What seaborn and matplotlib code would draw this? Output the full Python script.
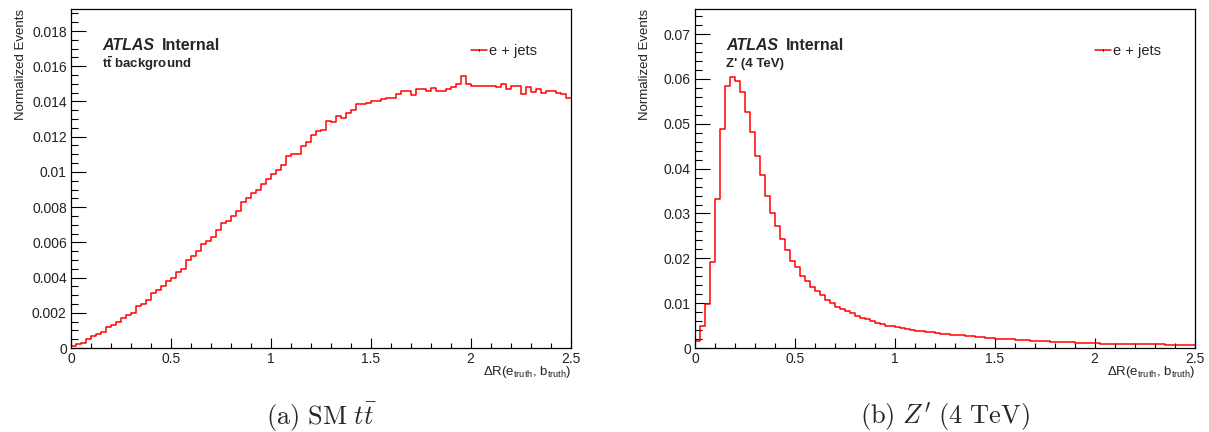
import numpy as np
import pandas as pd
import seaborn as sns
import matplotlib
matplotlib.use("Agg")
import matplotlib.pyplot as plt
from matplotlib.ticker import MultipleLocator, FuncFormatter
from matplotlib.lines import Line2D

# ---------------- data ----------------
x_low, x_high, n_bins = 0.0, 2.5, 100

ttbar_vals = [
    0.0001, 0.0002, 0.0003, 0.0005, 0.0007, 0.0008, 0.0009, 0.0012, 0.0013, 0.0015,
    0.0017, 0.0019, 0.0020, 0.0024, 0.0025, 0.0027, 0.0031, 0.0033, 0.0035, 0.0038,
    0.0040, 0.0043, 0.0045, 0.0050, 0.0052, 0.0055, 0.0059, 0.0061, 0.0063, 0.0067,
    0.0071, 0.0072, 0.0075, 0.0078, 0.0083, 0.0085, 0.0088, 0.0090, 0.0093, 0.0096,
    0.0099, 0.0101, 0.0104, 0.0109, 0.0110, 0.0110, 0.01148, 0.01169, 0.01210, 0.01233,
    0.01237, 0.01288, 0.01284, 0.01318, 0.01305, 0.01337, 0.01349, 0.01386, 0.01386, 0.01390,
    0.01405, 0.01403, 0.01413, 0.01422, 0.01420, 0.01443, 0.01460, 0.01460, 0.01438, 0.01468,
    0.01470, 0.01460, 0.01479, 0.01460, 0.01460, 0.01470, 0.01480, 0.01500, 0.01542, 0.01500,
    0.01490, 0.01490, 0.01490, 0.01490, 0.01490, 0.01480, 0.01500, 0.01470, 0.01490, 0.01490,
    0.01441, 0.01480, 0.01454, 0.01470, 0.01450, 0.01460, 0.01460, 0.01450, 0.01440, 0.01420,
]

zprime_vals = [
    0.0015, 0.0048, 0.0099, 0.0191, 0.0332, 0.0488, 0.0584, 0.0605, 0.0595, 0.0570,
    0.0527, 0.0482, 0.0429, 0.0385, 0.0338, 0.0302, 0.0271, 0.0244, 0.0218, 0.0195,
    0.0181, 0.0161, 0.0150, 0.0135, 0.0127, 0.0119, 0.0108, 0.0101, 0.0092, 0.0086,
    0.0082, 0.0078, 0.0071, 0.0067, 0.0064, 0.0060, 0.0056, 0.0053, 0.0050, 0.0048,
    0.0046, 0.0044, 0.0043, 0.0041, 0.0039, 0.0038, 0.0036, 0.0035, 0.0033, 0.0032,
    0.0031, 0.0030, 0.0029, 0.0028, 0.0027, 0.0026, 0.0025, 0.0024, 0.0023, 0.0022,
    0.0021, 0.0020, 0.0020, 0.0019, 0.0018, 0.0018, 0.0017, 0.0016, 0.0016, 0.0015,
    0.0015, 0.0014, 0.0014, 0.0013, 0.0013, 0.0013, 0.0012, 0.0012, 0.0011, 0.0011,
    0.0011, 0.0010, 0.0010, 0.0010, 0.0010, 0.0009, 0.0009, 0.0009, 0.0009, 0.0008,
    0.0008, 0.0008, 0.0008, 0.0008, 0.0007, 0.0007, 0.0007, 0.0007, 0.0007, 0.0007,
]

series_label = "e + jets"
y_label = "Normalized Events"
x_label = r"$\Delta$R(e$_{\rm truth}$, b$_{\rm truth}$)"
sub_labels = [r"$\mathbf{t\bar{t}}$ background", "Z' (4 TeV)"]
captions = [r"$\mathrm{(a)\ SM}\ t\bar{t}$", r"$\mathrm{(b)}\ Z^{\prime}\ \mathrm{(4\ TeV)}$"]

# ---------------- style ----------------
sns.set_style("white")
plt.rcParams["font.family"] = ["Liberation Sans", "DejaVu Sans"]
plt.rcParams["mathtext.fontset"] = "custom"
plt.rcParams["mathtext.rm"] = "Liberation Sans"
plt.rcParams["mathtext.it"] = "Liberation Sans:italic"
plt.rcParams["mathtext.bf"] = "Liberation Sans:bold"

W, H = 1209, 432
fig = plt.figure(figsize=(W / 100, H / 100), dpi=100)

edges = np.linspace(x_low, x_high, n_bins + 1)
centers = 0.5 * (edges[:-1] + edges[1:])

panels = [
    dict(vals=ttbar_vals, left=71, ymax=0.01925, ymaj=0.002, ymin=0.0005),
    dict(vals=zprime_vals, left=695, ymax=0.0756, ymaj=0.01, ymin=0.002),
]
axw, top, bot = 499.5, 9, 348

fmt = FuncFormatter(lambda v, p: "%g" % round(v, 6))

for i, p in enumerate(panels):
    ax = fig.add_axes([p["left"] / W, (H - bot) / H, axw / W, (bot - top) / H])
    df = pd.DataFrame({"x": centers, "w": p["vals"]})
    sns.histplot(data=df, x="x", weights="w", bins=n_bins, binrange=(x_low, x_high),
                 element="step", fill=False, color="#ff0000", linewidth=1.1, ax=ax)
    ax.set_xlim(x_low, x_high)
    ax.set_ylim(0, p["ymax"])
    ax.set_xlabel("")
    ax.set_ylabel("")
    for s in ax.spines.values():
        s.set_visible(True)
        s.set_color("black")
        s.set_linewidth(0.9)
    ax.xaxis.set_major_locator(MultipleLocator(0.5))
    ax.xaxis.set_minor_locator(MultipleLocator(0.1))
    ax.yaxis.set_major_locator(MultipleLocator(p["ymaj"]))
    ax.yaxis.set_minor_locator(MultipleLocator(p["ymin"]))
    ax.xaxis.set_major_formatter(fmt)
    ax.yaxis.set_major_formatter(fmt)
    ax.tick_params(axis="both", which="both", direction="in", top=False, right=False,
                   bottom=True, left=True, colors="black", width=0.8, labelsize=10)
    ax.tick_params(axis="y", which="major", length=10.5, pad=3)
    ax.tick_params(axis="y", which="minor", length=5.3)
    ax.tick_params(axis="x", which="major", length=7, pad=3)
    ax.tick_params(axis="x", which="minor", length=3.5)
    for lab in ax.get_xticklabels() + ax.get_yticklabels():
        lab.set_color("#222222")

    # y label (ROOT style, aligned to top of axis)
    fig.text((p["left"] - 56) / W, (H - top) / H, y_label, rotation=90,
             ha="left", va="top", fontsize=9.5, color="#222222")
    # x label at right end
    fig.text((p["left"] + axw + 1) / W, (H - 375) / H, x_label,
             ha="right", va="baseline", fontsize=9.5, color="#222222")

    # ATLAS label
    ax.text(0.062, 0.892, "ATLAS", transform=ax.transAxes, fontsize=11.5,
            fontweight="bold", fontstyle="italic", va="center", ha="left")
    ax.text(0.182, 0.892, "Internal", transform=ax.transAxes, fontsize=11.5,
            fontweight="bold", va="center", ha="left")
    ax.text(0.062, 0.838, sub_labels[i], transform=ax.transAxes, fontsize=9.5,
            fontweight="bold", va="center", ha="left")

    handle = Line2D([], [], color="#ff0000", lw=1.1, marker="|", markersize=1.8,
                    markeredgecolor="black", markeredgewidth=0.8)
    ax.legend([handle], [series_label], loc="center left",
              bbox_to_anchor=(0.80, 0.876), frameon=False, fontsize=10.5,
              handlelength=1.1, handletextpad=0.15, borderpad=0, borderaxespad=0)

    cx = (p["left"] + axw / 2) / W
    fig.text(cx, (H - 417) / H, captions[i], ha="center", va="center",
             fontsize=19, math_fontfamily="cm")

fig.savefig("out.png", dpi=100)
